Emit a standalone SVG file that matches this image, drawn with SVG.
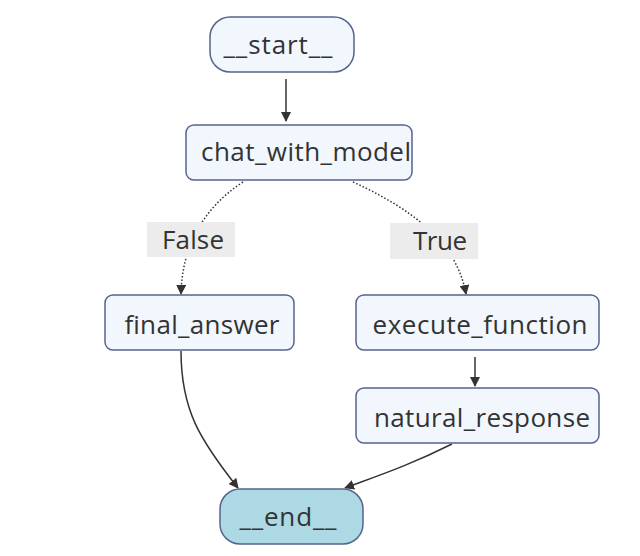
<svg xmlns="http://www.w3.org/2000/svg" width="640" height="556" viewBox="0 0 640 556">
<defs>
<style>
.node rect{fill:#f2f7fd;stroke:#56648f;stroke-width:1.5}
.term rect{fill:#f2f7fd;stroke:#56648f;stroke-width:1.5}
.endn rect{fill:#acd9e3;stroke:#56648f;stroke-width:1.5}
text{font-family:"Open Sans","Noto Sans","DejaVu Sans",sans-serif;font-size:26px;fill:#333;text-anchor:middle}
.lbl rect{fill:#ececec}
.edge{fill:none;stroke:#333;stroke-width:1.5}
.dot{fill:none;stroke:#333;stroke-width:1.5;stroke-dasharray:1.5 2}
</style>
<marker id="ah" viewBox="0 0 10 10" refX="9" refY="5" markerWidth="10" markerHeight="10" markerUnits="userSpaceOnUse" orient="auto">
<path d="M0,0 L10,5 L0,10 z" fill="#333"/>
</marker>
</defs>
<rect width="640" height="556" fill="#fff"/>
<g id="connectors">
<path class="edge" d="M286,79 L286,121" marker-end="url(#ah)"/>
<path class="dot" d="M243,182 C200,210 182,250 181,294" marker-end="url(#ah)"/>
<path class="dot" d="M353,182 C425,215 458,250 466,294" marker-end="url(#ah)"/>
<path class="edge" d="M475,357 L475,386" marker-end="url(#ah)"/>
<path class="edge" d="M181,351 C181,410 200,440 238,488" marker-end="url(#ah)"/>
<path class="edge" d="M452,444 C410,465 380,475 345,488" marker-end="url(#ah)"/>
</g>
<g id="label-false" class="lbl"><rect x="147" y="222" width="88" height="35"/><text x="193" y="249" textLength="62" lengthAdjust="spacing">False</text></g>
<g id="label-true" class="lbl"><rect x="390" y="223" width="88" height="36"/><text x="440" y="250" textLength="54" lengthAdjust="spacing">True</text></g>
<g id="start" class="term"><rect x="210" y="17" width="144" height="55" rx="20"/><text x="278" y="54" textLength="109" lengthAdjust="spacing">__start__</text></g>
<g id="chat_with_model" class="node"><rect x="186" y="125" width="226" height="55" rx="8"/><text x="306" y="161" textLength="210" lengthAdjust="spacing">chat_with_model</text></g>
<g id="final_answer" class="node"><rect x="105" y="295" width="189" height="55" rx="8"/><text x="202" y="334" textLength="155" lengthAdjust="spacing">final_answer</text></g>
<g id="execute_function" class="node"><rect x="356" y="295" width="243" height="55" rx="8"/><text x="480" y="334" textLength="215" lengthAdjust="spacing">execute_function</text></g>
<g id="natural_response" class="node"><rect x="356" y="388" width="243" height="55" rx="8"/><text x="482" y="427" textLength="216" lengthAdjust="spacing">natural_response</text></g>
<g id="end" class="endn"><rect x="220" y="489" width="143" height="55" rx="20"/><text x="288" y="526" textLength="97" lengthAdjust="spacing">__end__</text></g>
</svg>
